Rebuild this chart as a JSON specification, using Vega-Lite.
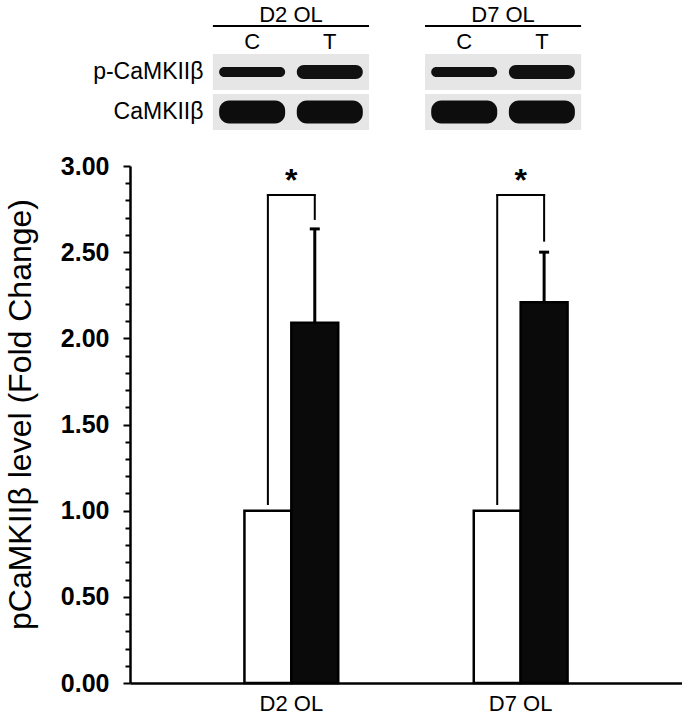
{
  "$schema": "https://vega.github.io/schema/vega-lite/v6.json",
  "padding": {"left": 4, "top": 3, "right": 0, "bottom": 0},
  "background": "white",
  "spacing": 24,
  "resolve": {"scale": {"x": "independent", "y": "independent", "xOffset": "independent"}, "axis": {"x": "independent", "y": "independent"}},
  "config": {"font": "Liberation Sans", "view": {"stroke": null}, "axis": {"grid": false}},
  "datasets": {
    "bars": [
      {"group": "D2 OL", "condition": "C", "value": 1.0},
      {"group": "D2 OL", "condition": "T", "value": 2.09, "upper": 2.635},
      {"group": "D7 OL", "condition": "C", "value": 1.0},
      {"group": "D7 OL", "condition": "T", "value": 2.21, "upper": 2.5}
    ],
    "brackets": [
      {"group": "D2 OL", "top": 2.832, "c_end": 1.033, "t_end": 2.687},
      {"group": "D7 OL", "top": 2.832, "c_end": 1.033, "t_end": 2.561}
    ],
    "blots": [
      {"blot": "D2 OL", "lane": "C", "protein": "p-CaMKIIβ"},
      {"blot": "D2 OL", "lane": "T", "protein": "p-CaMKIIβ"},
      {"blot": "D7 OL", "lane": "C", "protein": "p-CaMKIIβ"},
      {"blot": "D7 OL", "lane": "T", "protein": "p-CaMKIIβ"},
      {"blot": "D2 OL", "lane": "C", "protein": "CaMKIIβ"},
      {"blot": "D2 OL", "lane": "T", "protein": "CaMKIIβ"},
      {"blot": "D7 OL", "lane": "C", "protein": "CaMKIIβ"},
      {"blot": "D7 OL", "lane": "T", "protein": "CaMKIIβ"}
    ]
  },
  "vconcat": [
    {
      "width": 534,
      "height": 76,
      "data": {"name": "blots"},
      "encoding": {
        "x": {"field": "blot", "type": "nominal", "title": null,
          "scale": {"domain": ["D2 OL", "D7 OL"], "paddingInner": 0.264, "paddingOuter": 0.391},
          "axis": {"orient": "top", "domain": false, "ticks": false, "labelFontSize": 22, "labelColor": "black", "labelPadding": 28, "labelAngle": 0}},
        "y": {"field": "protein", "type": "nominal", "title": null,
          "scale": {"domain": ["p-CaMKIIβ", "CaMKIIβ"], "paddingInner": 0.1, "paddingOuter": 0},
          "axis": {"domain": false, "ticks": false, "labelFontSize": 23, "labelColor": "black", "offset": -80, "labelPadding": 7}}
      },
      "layer": [
        {"mark": {"type": "bar", "color": "#e6e6e6"}},
        {"transform": [{"filter": "datum.protein === 'p-CaMKIIβ' && datum.lane === 'C'"}],
         "mark": {"type": "bar", "color": "#111111", "height": 10, "cornerRadius": 5},
         "encoding": {"xOffset": {"field": "lane", "scale": {"domain": ["C", "T"], "paddingInner": 0.15, "paddingOuter": 0.08}}}},
        {"transform": [{"filter": "datum.protein === 'p-CaMKIIβ' && datum.lane === 'T'"}],
         "mark": {"type": "bar", "color": "#111111", "height": 14, "cornerRadius": 7},
         "encoding": {"xOffset": {"field": "lane", "scale": {"domain": ["C", "T"], "paddingInner": 0.15, "paddingOuter": 0.08}}}},
        {"transform": [{"filter": "datum.protein === 'CaMKIIβ'"}],
         "mark": {"type": "bar", "color": "#0d0d0d", "height": 23, "cornerRadius": 10},
         "encoding": {"xOffset": {"field": "lane", "scale": {"domain": ["C", "T"], "paddingInner": 0.15, "paddingOuter": 0.08}}}},
        {"transform": [{"filter": "datum.protein === 'p-CaMKIIβ'"}],
         "mark": {"type": "text", "fontSize": 22, "dy": -30, "baseline": "middle", "color": "black"},
         "encoding": {"xOffset": {"field": "lane", "scale": {"domain": ["C", "T"], "paddingInner": 0.15, "paddingOuter": 0.08}}, "text": {"field": "lane"}}},
        {"transform": [{"filter": "datum.protein === 'p-CaMKIIβ' && datum.lane === 'C'"}],
         "mark": {"type": "bar", "color": "black", "height": 2, "yOffset": -46}}
      ]
    },
    {
      "width": 552,
      "height": 517,
      "layer": [
        {
          "data": {"name": "bars"},
          "mark": {"type": "bar", "stroke": "black", "strokeWidth": 2.5},
          "encoding": {
            "x": {"field": "group", "type": "nominal", "title": null,
              "scale": {"domain": ["D2 OL", "D7 OL"], "paddingInner": 0.591, "paddingOuter": 0.499},
              "axis": {"domainColor": "black", "domainWidth": 2.5, "ticks": false, "labelFontSize": 22, "labelColor": "black", "labelPadding": 10, "labelAngle": 0}},
            "xOffset": {"field": "condition", "scale": {"domain": ["C", "T"], "paddingInner": 0, "paddingOuter": 0}},
            "y": {"field": "value", "type": "quantitative", "title": "pCaMKIIβ level (Fold Change)",
              "scale": {"domain": [0, 3], "nice": false},
              "axis": {
                "values": [0, 0.1, 0.2, 0.3, 0.4, 0.5, 0.6, 0.7, 0.8, 0.9, 1, 1.1, 1.2, 1.3, 1.4, 1.5, 1.6, 1.7, 1.8, 1.9, 2, 2.1, 2.2, 2.3, 2.4, 2.5, 2.6, 2.7, 2.8, 2.9, 3],
                "labelExpr": "abs(datum.value*2 - round(datum.value*2)) < 0.001 ? format(datum.value, '.2f') : ''",
                "labelFontSize": 25, "labelFontWeight": "bold", "labelColor": "black", "labelPadding": 14,
                "labelOverlap": false, "labelFlush": false,
                "tickSize": {"condition": {"test": "abs(datum.value*2 - round(datum.value*2)) < 0.001", "value": 7}, "value": 5},
                "tickWidth": 2, "tickColor": "black", "domainColor": "black", "domainWidth": 2.5,
                "titleFontSize": 32, "titleFontWeight": "normal", "titleColor": "black", "titlePadding": 23, "titleY": 248
              }},
            "fill": {"field": "condition", "type": "nominal", "scale": {"domain": ["C", "T"], "range": ["white", "#0a0a0a"]}, "legend": null}
          }
        },
        {
          "data": {"name": "bars"},
          "transform": [{"filter": "isValid(datum.upper)"}],
          "mark": {"type": "rule", "strokeWidth": 3, "color": "black"},
          "encoding": {
            "x": {"field": "group", "type": "nominal", "title": null},
            "xOffset": {"field": "condition"},
            "y": {"field": "value", "type": "quantitative", "title": "pCaMKIIβ level (Fold Change)",
              "axis": {
                "values": [0, 0.1, 0.2, 0.3, 0.4, 0.5, 0.6, 0.7, 0.8, 0.9, 1, 1.1, 1.2, 1.3, 1.4, 1.5, 1.6, 1.7, 1.8, 1.9, 2, 2.1, 2.2, 2.3, 2.4, 2.5, 2.6, 2.7, 2.8, 2.9, 3],
                "labelExpr": "abs(datum.value*2 - round(datum.value*2)) < 0.001 ? format(datum.value, '.2f') : ''",
                "labelFontSize": 25, "labelFontWeight": "bold", "labelColor": "black", "labelPadding": 14,
                "labelOverlap": false, "labelFlush": false,
                "tickSize": {"condition": {"test": "abs(datum.value*2 - round(datum.value*2)) < 0.001", "value": 7}, "value": 5},
                "tickWidth": 2, "tickColor": "black", "domainColor": "black", "domainWidth": 2.5,
                "titleFontSize": 32, "titleFontWeight": "normal", "titleColor": "black", "titlePadding": 23, "titleY": 248
              }},
            "y2": {"field": "upper"}
          }
        },
        {
          "data": {"name": "bars"},
          "transform": [{"filter": "isValid(datum.upper)"}],
          "mark": {"type": "tick", "orient": "horizontal", "size": 10, "thickness": 3, "color": "black", "opacity": 1},
          "encoding": {
            "x": {"field": "group", "type": "nominal", "title": null},
            "xOffset": {"field": "condition"},
            "y": {"field": "upper", "type": "quantitative", "title": "pCaMKIIβ level (Fold Change)",
              "axis": {
                "values": [0, 0.1, 0.2, 0.3, 0.4, 0.5, 0.6, 0.7, 0.8, 0.9, 1, 1.1, 1.2, 1.3, 1.4, 1.5, 1.6, 1.7, 1.8, 1.9, 2, 2.1, 2.2, 2.3, 2.4, 2.5, 2.6, 2.7, 2.8, 2.9, 3],
                "labelExpr": "abs(datum.value*2 - round(datum.value*2)) < 0.001 ? format(datum.value, '.2f') : ''",
                "labelFontSize": 25, "labelFontWeight": "bold", "labelColor": "black", "labelPadding": 14,
                "labelOverlap": false, "labelFlush": false,
                "tickSize": {"condition": {"test": "abs(datum.value*2 - round(datum.value*2)) < 0.001", "value": 7}, "value": 5},
                "tickWidth": 2, "tickColor": "black", "domainColor": "black", "domainWidth": 2.5,
                "titleFontSize": 32, "titleFontWeight": "normal", "titleColor": "black", "titlePadding": 23, "titleY": 248
              }}
          }
        },
        {
          "data": {"name": "brackets"},
          "mark": {"type": "rule", "strokeWidth": 2, "color": "black"},
          "encoding": {
            "x": {"field": "group", "type": "nominal", "title": null},
            "xOffset": {"datum": "C"},
            "y": {"field": "c_end", "type": "quantitative", "title": "pCaMKIIβ level (Fold Change)",
              "axis": {
                "values": [0, 0.1, 0.2, 0.3, 0.4, 0.5, 0.6, 0.7, 0.8, 0.9, 1, 1.1, 1.2, 1.3, 1.4, 1.5, 1.6, 1.7, 1.8, 1.9, 2, 2.1, 2.2, 2.3, 2.4, 2.5, 2.6, 2.7, 2.8, 2.9, 3],
                "labelExpr": "abs(datum.value*2 - round(datum.value*2)) < 0.001 ? format(datum.value, '.2f') : ''",
                "labelFontSize": 25, "labelFontWeight": "bold", "labelColor": "black", "labelPadding": 14,
                "labelOverlap": false, "labelFlush": false,
                "tickSize": {"condition": {"test": "abs(datum.value*2 - round(datum.value*2)) < 0.001", "value": 7}, "value": 5},
                "tickWidth": 2, "tickColor": "black", "domainColor": "black", "domainWidth": 2.5,
                "titleFontSize": 32, "titleFontWeight": "normal", "titleColor": "black", "titlePadding": 23, "titleY": 248
              }},
            "y2": {"field": "top"}
          }
        },
        {
          "data": {"name": "brackets"},
          "mark": {"type": "rule", "strokeWidth": 2, "color": "black"},
          "encoding": {
            "x": {"field": "group", "type": "nominal", "title": null},
            "xOffset": {"datum": "T"},
            "y": {"field": "t_end", "type": "quantitative", "title": "pCaMKIIβ level (Fold Change)",
              "axis": {
                "values": [0, 0.1, 0.2, 0.3, 0.4, 0.5, 0.6, 0.7, 0.8, 0.9, 1, 1.1, 1.2, 1.3, 1.4, 1.5, 1.6, 1.7, 1.8, 1.9, 2, 2.1, 2.2, 2.3, 2.4, 2.5, 2.6, 2.7, 2.8, 2.9, 3],
                "labelExpr": "abs(datum.value*2 - round(datum.value*2)) < 0.001 ? format(datum.value, '.2f') : ''",
                "labelFontSize": 25, "labelFontWeight": "bold", "labelColor": "black", "labelPadding": 14,
                "labelOverlap": false, "labelFlush": false,
                "tickSize": {"condition": {"test": "abs(datum.value*2 - round(datum.value*2)) < 0.001", "value": 7}, "value": 5},
                "tickWidth": 2, "tickColor": "black", "domainColor": "black", "domainWidth": 2.5,
                "titleFontSize": 32, "titleFontWeight": "normal", "titleColor": "black", "titlePadding": 23, "titleY": 248
              }},
            "y2": {"field": "top"}
          }
        },
        {
          "data": {"name": "brackets"},
          "mark": {"type": "tick", "orient": "horizontal", "size": 49, "thickness": 2, "color": "black", "opacity": 1},
          "encoding": {
            "x": {"field": "group", "type": "nominal", "title": null},
            "y": {"field": "top", "type": "quantitative", "title": "pCaMKIIβ level (Fold Change)",
              "axis": {
                "values": [0, 0.1, 0.2, 0.3, 0.4, 0.5, 0.6, 0.7, 0.8, 0.9, 1, 1.1, 1.2, 1.3, 1.4, 1.5, 1.6, 1.7, 1.8, 1.9, 2, 2.1, 2.2, 2.3, 2.4, 2.5, 2.6, 2.7, 2.8, 2.9, 3],
                "labelExpr": "abs(datum.value*2 - round(datum.value*2)) < 0.001 ? format(datum.value, '.2f') : ''",
                "labelFontSize": 25, "labelFontWeight": "bold", "labelColor": "black", "labelPadding": 14,
                "labelOverlap": false, "labelFlush": false,
                "tickSize": {"condition": {"test": "abs(datum.value*2 - round(datum.value*2)) < 0.001", "value": 7}, "value": 5},
                "tickWidth": 2, "tickColor": "black", "domainColor": "black", "domainWidth": 2.5,
                "titleFontSize": 32, "titleFontWeight": "normal", "titleColor": "black", "titlePadding": 23, "titleY": 248
              }}
          }
        },
        {
          "data": {"name": "brackets"},
          "mark": {"type": "text", "text": "*", "fontSize": 32, "fontWeight": "bold", "dy": -14, "baseline": "middle", "color": "black"},
          "encoding": {
            "x": {"field": "group", "type": "nominal", "title": null},
            "y": {"field": "top", "type": "quantitative", "title": "pCaMKIIβ level (Fold Change)",
              "axis": {
                "values": [0, 0.1, 0.2, 0.3, 0.4, 0.5, 0.6, 0.7, 0.8, 0.9, 1, 1.1, 1.2, 1.3, 1.4, 1.5, 1.6, 1.7, 1.8, 1.9, 2, 2.1, 2.2, 2.3, 2.4, 2.5, 2.6, 2.7, 2.8, 2.9, 3],
                "labelExpr": "abs(datum.value*2 - round(datum.value*2)) < 0.001 ? format(datum.value, '.2f') : ''",
                "labelFontSize": 25, "labelFontWeight": "bold", "labelColor": "black", "labelPadding": 14,
                "labelOverlap": false, "labelFlush": false,
                "tickSize": {"condition": {"test": "abs(datum.value*2 - round(datum.value*2)) < 0.001", "value": 7}, "value": 5},
                "tickWidth": 2, "tickColor": "black", "domainColor": "black", "domainWidth": 2.5,
                "titleFontSize": 32, "titleFontWeight": "normal", "titleColor": "black", "titlePadding": 23, "titleY": 248
              }}
          }
        }
      ]
    }
  ]
}
